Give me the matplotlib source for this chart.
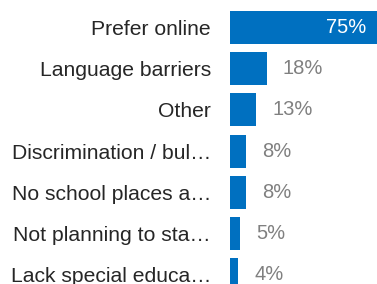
import matplotlib
matplotlib.use("Agg")
import matplotlib.pyplot as plt

plt.rcParams["font.family"] = ["Liberation Sans", "DejaVu Sans"]

# data (labels are truncated there too)
categories = [
    "Prefer online",
    "Language barriers",
    "Other",
    "Discrimination / bul\u2026",
    "No school places a\u2026",
    "Not planning to sta\u2026",
    "Lack special educa\u2026",
]
values = [75, 18, 13, 8, 8, 5, 4]

bar_color = "#0070C0"
W, H = 377, 284
fig = plt.figure(figsize=(W / 100, H / 100), dpi=100)
ax = fig.add_axes([230 / W, 0, 147 / W, 1])

ypos = list(range(len(categories)))
ax.barh(ypos, values, height=0.8, color=bar_color)

ax.set_xlim(0, 72.4)
ax.set_ylim(6.226, -0.667)
ax.set_yticks(ypos)
ax.set_yticklabels(categories, fontsize=15.2, color="#262626")
ax.tick_params(axis="y", length=0, pad=13.7)
ax.set_xticks([])
for s in ax.spines.values():
    s.set_visible(False)

for y, v in zip(ypos, values):
    if v > 50:
        ax.annotate(f"{v}%", (v, y), xytext=(-11.5, 0), textcoords="offset points",
                    ha="right", va="center", color="white", fontsize=14.5,
                    annotation_clip=False)
    else:
        ax.annotate(f"{v}%", (v, y), xytext=(11.5, 0), textcoords="offset points",
                    ha="left", va="center", color="#808080", fontsize=14.5,
                    annotation_clip=False)

fig.savefig("out.png", dpi=100)
